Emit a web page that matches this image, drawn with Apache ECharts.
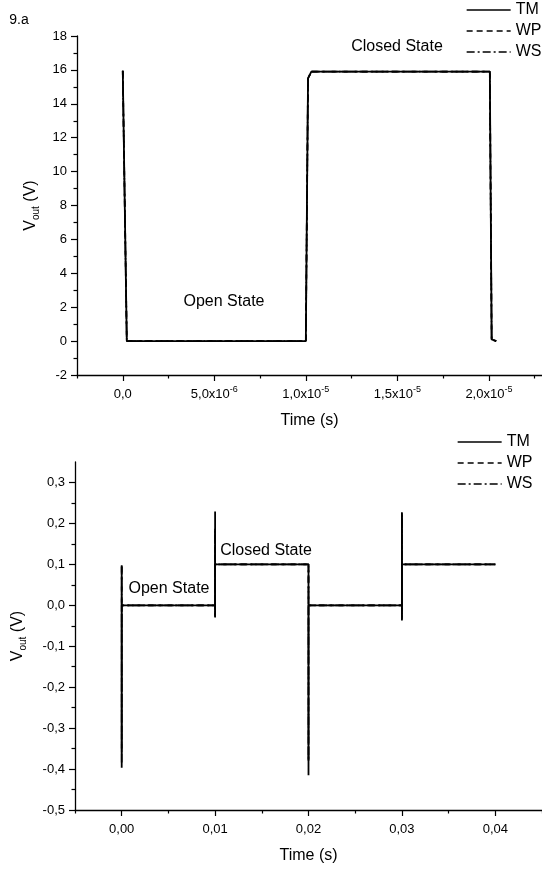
<!DOCTYPE html>
<html><head><meta charset="utf-8">
<script src="https://cdn.jsdelivr.net/npm/echarts@6/dist/echarts.min.js"></script>
<style>html,body{margin:0;padding:0;background:#fff}#c{width:542px;height:870px}</style>
</head><body><div id="c"></div>
<script>
// ---------- Panel 9.a (top) ----------
const topTime = [0, 0.03e-6, 0.22e-6, 10.0e-6, 10.06e-6, 10.12e-6, 10.3e-6, 20.05e-6, 20.15e-6, 20.4e-6];
const topTM   = [15.95, 15.9, 0, 0, 8.0, 15.5, 15.9, 15.9, 0.1, 0];
const topWP   = [15.95, 15.9, 0, 0, 8.0, 15.5, 15.9, 15.9, 0.1, 0];
const topWS   = [15.95, 15.9, 0, 0, 8.0, 15.5, 15.9, 15.9, 0.1, 0];
const topXTicks = [0, 5e-6, 1e-5, 1.5e-5, 2e-5];
const topXLabels = ['0,0', '5,0x10{sup|-6}', '1,0x10{sup|-5}', '1,5x10{sup|-5}', '2,0x10{sup|-5}'];
const topXMinor = [-2.5e-6, 2.5e-6, 7.5e-6, 12.5e-6, 17.5e-6, 22.5e-6];
const topYTicks = [-2, 0, 2, 4, 6, 8, 10, 12, 14, 16, 18];
const topYLabels = ['-2', '0', '2', '4', '6', '8', '10', '12', '14', '16', '18'];
const topYMinor = [-1, 1, 3, 5, 7, 9, 11, 13, 15, 17];

// ---------- Bottom panel ----------
const botTime = [0, 0, 0, 0.01, 0.01, 0.01, 0.01, 0.02, 0.02, 0.02, 0.03, 0.03, 0.03, 0.03, 0.04];
const botTM   = [0.098, -0.397, 0, 0, 0.229, -0.03, 0.1, 0.1, -0.415, 0, 0, 0.227, -0.037, 0.1, 0.1];
const botWP   = [0.095, -0.385, 0, 0, 0.187, -0.028, 0.1, 0.1, -0.38, 0, 0, 0.225, -0.035, 0.1, 0.1];
const botWS   = [0.095, -0.35, 0, 0, 0.185, -0.025, 0.1, 0.1, -0.38, 0, 0, 0.22, -0.03, 0.1, 0.1];
const botXTicks = [0, 0.01, 0.02, 0.03, 0.04];
const botXLabels = ['0,00', '0,01', '0,02', '0,03', '0,04'];
const botXMinor = [-0.005, 0.005, 0.015, 0.025, 0.035, 0.045];
const botYTicks = [-0.5, -0.4, -0.3, -0.2, -0.1, 0, 0.1, 0.2, 0.3];
const botYLabels = ['-0,5', '-0,4', '-0,3', '-0,2', '-0,1', '0,0', '0,1', '0,2', '0,3'];
const botYMinor = [-0.45, -0.35, -0.25, -0.15, -0.05, 0.05, 0.15, 0.25];

const seriesNames = ['TM', 'WP', 'WS'];
const legendNames = ['TM', 'WP', 'WS'];

const FONT = '"Liberation Sans", Arial, sans-serif';
const zip = (xs, ys) => xs.map((x, i) => [x, ys[i]]);
const labelFor = (vals, labels) => (v) => {
  for (let i = 0; i < vals.length; i++) {
    if (Math.abs(vals[i] - v) < Math.abs(vals[1] - vals[0]) * 1e-3) return labels[i];
  }
  return '';
};

const lineStyles = [
  { color: '#000', width: 1.8, type: 'solid' },
  { color: '#000', width: 1.7, type: [6, 4] },
  { color: '#000', width: 1.7, type: [8, 3, 2, 3] }
];

function mainX(gridIndex, min, max, ticks, labels, nameGap) {
  return {
    type: 'value', gridIndex, min, max, position: 'bottom',
    name: 'Time (s)', nameLocation: 'middle', nameGap,
    nameTextStyle: { fontSize: 16, color: '#000', fontFamily: FONT },
    axisLine: { show: true, onZero: false, lineStyle: { color: '#000', width: 1.3 } },
    axisTick: { show: true, length: 6, customValues: ticks, lineStyle: { color: '#000', width: 1.2 } },
    axisLabel: {
      customValues: ticks, margin: 10, fontSize: 13, color: '#000', fontFamily: FONT, lineHeight: 18,
      formatter: labelFor(ticks, labels),
      rich: { sup: { fontSize: 9, lineHeight: 10, verticalAlign: 'top', color: '#000', fontFamily: FONT } }
    },
    splitLine: { show: false }
  };
}
function minorX(gridIndex, min, max, minors) {
  return {
    type: 'value', gridIndex, min, max, position: 'bottom',
    axisLine: { show: false, onZero: false },
    axisTick: { show: true, length: 3.5, customValues: minors, lineStyle: { color: '#000', width: 1.2 } },
    axisLabel: { show: false }, splitLine: { show: false }
  };
}
function mainY(gridIndex, min, max, ticks, labels, nameGap) {
  return {
    type: 'value', gridIndex, min, max, position: 'left',
    name: 'V{sub|out} (V)', nameLocation: 'middle', nameGap, nameRotate: 90,
    nameTextStyle: { fontSize: 16, color: '#000', fontFamily: FONT, lineHeight: 20,
      rich: { sub: { fontSize: 10, lineHeight: 10, verticalAlign: 'bottom', color: '#000', fontFamily: FONT } } },
    axisLine: { show: true, onZero: false, lineStyle: { color: '#000', width: 1.3 } },
    axisTick: { show: true, length: 6, customValues: ticks, lineStyle: { color: '#000', width: 1.2 } },
    axisLabel: { customValues: ticks, margin: 10, fontSize: 13, color: '#000', fontFamily: FONT,
      formatter: labelFor(ticks, labels) },
    splitLine: { show: false }
  };
}
function minorY(gridIndex, min, max, minors) {
  return {
    type: 'value', gridIndex, min, max, position: 'left',
    axisLine: { show: false, onZero: false },
    axisTick: { show: true, length: 3.5, customValues: minors, lineStyle: { color: '#000', width: 1.2 } },
    axisLabel: { show: false }, splitLine: { show: false }
  };
}

const topData = [topTM, topWP, topWS];
const botData = [botTM, botWP, botWS];
const series = [];
seriesNames.forEach((n, i) => {
  series.push({ name: n, type: 'line', xAxisIndex: 0, yAxisIndex: 0, symbol: 'none',
    data: zip(topTime, topData[i]), lineStyle: lineStyles[i], itemStyle: { color: '#000' },
    silent: true, animation: false });
});
seriesNames.forEach((n, i) => {
  series.push({ name: n, type: 'line', xAxisIndex: 2, yAxisIndex: 2, symbol: 'none',
    data: zip(botTime, botData[i]), lineStyle: lineStyles[i], itemStyle: { color: '#000' },
    silent: true, animation: false });
});

const legendBase = {
  orient: 'vertical', itemWidth: 44, itemHeight: 14, itemGap: 5, selectedMode: false, padding: 0,
  itemStyle: { opacity: 0 },
  lineStyle: { width: 1.3 },
  textStyle: { fontSize: 16, color: '#000', fontFamily: FONT },
  data: legendNames
};

const txt = (t, x, y, size) => ({
  type: 'text', x, y,
  style: { text: t, fill: '#000', font: size + 'px ' + FONT, align: 'center', verticalAlign: 'middle' }
});

const option = {
  backgroundColor: '#fff',
  animation: false,
  textStyle: { fontFamily: FONT },
  grid: [
    { left: 77, top: 36, right: 0, height: 339 },
    { left: 74, top: 462, right: 0, height: 348 }
  ],
  xAxis: [
    mainX(0, -2.5e-6, 2.29e-5, topXTicks, topXLabels, 38),
    minorX(0, -2.5e-6, 2.29e-5, topXMinor),
    mainX(1, -0.005, 0.045, botXTicks, botXLabels, 38),
    minorX(1, -0.005, 0.045, botXMinor)
  ],
  yAxis: [
    mainY(0, -2, 18, topYTicks, topYLabels, 36),
    minorY(0, -2, 18, topYMinor),
    mainY(1, -0.5, 0.35, botYTicks, botYLabels, 47),
    minorY(1, -0.5, 0.35, botYMinor)
  ],
  legend: [
    Object.assign({}, legendBase, { left: 466, top: 2 }),
    Object.assign({}, legendBase, { left: 457, top: 434 })
  ],
  graphic: [
    txt('9.a', 19, 20, 14),
    txt('Closed State', 397, 47, 16),
    txt('Open State', 224, 302, 16),
    txt('Open State', 169, 589, 16),
    txt('Closed State', 266, 551, 16)
  ],
  series
};

const chart = echarts.init(document.getElementById('c'), null, { renderer: 'canvas' });
chart.setOption(option);
</script>
</body></html>
